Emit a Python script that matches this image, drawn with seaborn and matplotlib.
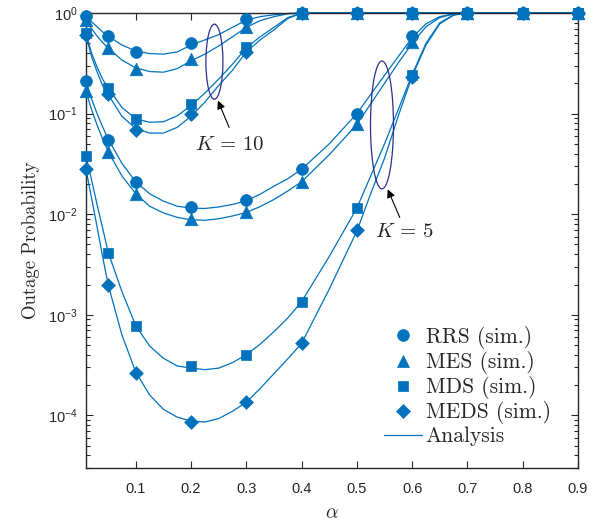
import numpy as np
import pandas as pd
import matplotlib
matplotlib.use("Agg")
import matplotlib.pyplot as plt
from matplotlib.patches import Ellipse
from matplotlib.lines import Line2D
from matplotlib.ticker import FixedLocator, FuncFormatter, LogLocator, NullFormatter
import seaborn as sns

# ---------------- data ----------------
alpha_sim = [0.01, 0.05, 0.1, 0.2, 0.3, 0.4, 0.5, 0.6, 0.7, 0.8, 0.9]

# K = 10 group (upper curves), simulation
rrs_k10_sim = [0.93, 0.59, 0.41, 0.50, 0.87, 1, 1, 1, 1, 1, 1]
mes_k10_sim = [0.85, 0.45, 0.28, 0.35, 0.73, 1, 1, 1, 1, 1, 1]
mds_k10_sim = [0.63, 0.18, 0.089, 0.125, 0.46, 1, 1, 1, 1, 1, 1]
meds_k10_sim = [0.60, 0.155, 0.069, 0.098, 0.41, 1, 1, 1, 1, 1, 1]

# K = 5 group (lower curves), simulation
rrs_k5_sim = [0.21, 0.055, 0.021, 0.0118, 0.0138, 0.028, 0.10, 0.59, 1, 1, 1]
mes_k5_sim = [0.166, 0.042, 0.0158, 0.0089, 0.0105, 0.0208, 0.078, 0.51, 1, 1, 1]
mds_k5_sim = [0.038, 0.0041, 7.7e-4, 3.1e-4, 4.0e-4, 1.35e-3, 0.0115, 0.243, 1, 1, 1]
meds_k5_sim = [0.028, 0.002, 2.64e-4, 8.5e-5, 1.35e-4, 5.2e-4, 0.0069, 0.23, 1, 1, 1]

# analysis curves
alpha_k10_an = [0.01, 0.02, 0.03, 0.04, 0.05, 0.075, 0.1, 0.125, 0.15, 0.175,
                0.2, 0.225, 0.25, 0.275, 0.3, 0.325, 0.35, 0.375, 0.4, 0.9]
rrs_k10_an = [0.92, 0.82, 0.73, 0.65, 0.59, 0.48, 0.42, 0.395, 0.39, 0.41,
              0.48, 0.54, 0.61, 0.72, 0.85, 0.92, 0.96, 0.99, 1, 1]
mes_k10_an = [0.85, 0.70, 0.59, 0.51, 0.45, 0.34, 0.285, 0.262, 0.258, 0.28,
              0.335, 0.39, 0.47, 0.58, 0.72, 0.84, 0.92, 0.98, 1, 1]
mds_k10_an = [0.63, 0.40, 0.29, 0.22, 0.18, 0.115, 0.089, 0.082, 0.083, 0.095,
              0.12, 0.16, 0.22, 0.31, 0.45, 0.58, 0.72, 0.90, 1, 1]
meds_k10_an = [0.60, 0.37, 0.26, 0.19, 0.155, 0.094, 0.071, 0.064, 0.064, 0.073,
               0.094, 0.13, 0.19, 0.27, 0.41, 0.54, 0.68, 0.88, 1, 1]

alpha_k5_an = [0.01, 0.02, 0.03, 0.04, 0.05, 0.075, 0.1, 0.125, 0.15, 0.175,
               0.2, 0.225, 0.25, 0.275, 0.3, 0.325, 0.35, 0.375, 0.4, 0.45,
               0.5, 0.525, 0.55, 0.575, 0.6, 0.625, 0.65, 0.675, 0.7, 0.9]
rrs_k5_an = [0.21, 0.14, 0.10, 0.074, 0.056, 0.032, 0.021, 0.016, 0.0135, 0.012,
             0.0115, 0.0114, 0.0118, 0.0125, 0.0136, 0.0158, 0.019, 0.0225, 0.028, 0.05,
             0.10, 0.155, 0.24, 0.37, 0.57, 0.78, 0.92, 0.98, 1, 1]
mes_k5_an = [0.166, 0.11, 0.077, 0.056, 0.042, 0.024, 0.016, 0.012, 0.0103, 0.0093,
             0.0088, 0.0087, 0.009, 0.0096, 0.0104, 0.0119, 0.014, 0.017, 0.021, 0.039,
             0.078, 0.125, 0.20, 0.32, 0.50, 0.73, 0.90, 0.98, 1, 1]
mds_k5_an = [0.038, 0.022, 0.0125, 0.0073, 0.0042, 0.0017, 7.8e-4, 4.9e-4, 3.7e-4, 3.1e-4,
             2.95e-4, 2.85e-4, 2.95e-4, 3.35e-4, 4.0e-4, 5.1e-4, 6.8e-4, 9.3e-4, 1.35e-3, 3.8e-3,
             0.0115, 0.024, 0.05, 0.11, 0.245, 0.50, 0.80, 0.96, 1, 1]
meds_k5_an = [0.028, 0.0145, 0.0075, 0.0038, 0.002, 6.3e-4, 2.7e-4, 1.6e-4, 1.15e-4, 9.6e-5,
              8.8e-5, 8.6e-5, 9.3e-5, 1.1e-4, 1.35e-4, 1.85e-4, 2.6e-4, 3.65e-4, 5.2e-4, 1.8e-3,
              6.8e-3, 0.016, 0.036, 0.095, 0.235, 0.48, 0.78, 0.95, 1, 1]

x_ticks = [0.1, 0.2, 0.3, 0.4, 0.5, 0.6, 0.7, 0.8, 0.9]
legend_labels = ["RRS (sim.)", "MES (sim.)", "MDS (sim.)", "MEDS (sim.)", "Analysis"]

# ---------------- style ----------------
sns.set_style("ticks")
plt.rcParams["font.family"] = ["Liberation Sans", "DejaVu Sans"]
plt.rcParams["mathtext.fontset"] = "custom"
plt.rcParams["mathtext.rm"] = "Liberation Sans"
plt.rcParams["mathtext.it"] = "Liberation Sans:italic"
plt.rcParams["mathtext.bf"] = "Liberation Sans:bold"
plt.rcParams["axes.formatter.use_mathtext"] = True

BLUE = "#0072BD"
AXC = "#262626"

fig = plt.figure(figsize=(5.99, 5.23), dpi=100)
ax = fig.add_axes([86 / 599, 1 - 468 / 523, 492 / 599, 455 / 523])

markers = {"RRS": ("o", 8.5), "MES": ("^", 9.0), "MDS": ("s", 7.5), "MEDS": ("D", 7.0)}

an_sets = [
    (alpha_k10_an, [rrs_k10_an, mes_k10_an, mds_k10_an, meds_k10_an]),
    (alpha_k5_an, [rrs_k5_an, mes_k5_an, mds_k5_an, meds_k5_an]),
]
for xs, ys_list in an_sets:
    for ys in ys_list:
        sns.lineplot(x=xs, y=ys, ax=ax, color=BLUE, lw=0.9, sort=False,
                     estimator=None, legend=False, clip_on=False)

sim_sets = [
    ("RRS", [rrs_k10_sim, rrs_k5_sim]),
    ("MES", [mes_k10_sim, mes_k5_sim]),
    ("MDS", [mds_k10_sim, mds_k5_sim]),
    ("MEDS", [meds_k10_sim, meds_k5_sim]),
]
for name, ys_list in sim_sets:
    m, ms = markers[name]
    for ys in ys_list:
        sns.scatterplot(x=alpha_sim, y=ys, ax=ax, marker=m, s=ms ** 2, color=BLUE,
                        edgecolor=BLUE, linewidth=0.5, legend=False, clip_on=False, zorder=5)

ax.set_yscale("log")
ax.set_xlim(0.01, 0.9)
ax.set_ylim(3e-5, 1)

ax.xaxis.set_major_locator(FixedLocator(x_ticks))
ax.xaxis.set_major_formatter(FuncFormatter(lambda v, p: f"{v:.1f}"))
ax.yaxis.set_major_locator(FixedLocator([1e-4, 1e-3, 1e-2, 1e-1, 1]))
ax.yaxis.set_major_formatter(FuncFormatter(lambda v, p: r"$10^{%d}$" % int(round(np.log10(v)))))
ax.yaxis.set_minor_locator(LogLocator(base=10, subs=np.arange(2, 10), numticks=20))
ax.yaxis.set_minor_formatter(NullFormatter())

ax.tick_params(which="both", direction="in", top=True, right=True, colors=AXC,
               labelsize=10.5, width=0.8)
ax.tick_params(which="major", length=5)
ax.tick_params(axis="y", which="major", pad=6)
ax.tick_params(axis="x", which="major", pad=10)
ax.tick_params(which="minor", length=3)
for sp in ax.spines.values():
    sp.set_color(AXC)
    sp.set_linewidth(1.0)

ax.set_xlabel(r"$\alpha$", fontsize=14, math_fontfamily="cm", labelpad=7)
ax.set_ylabel("Outage Probability", fontsize=13.5, family="cmr10", labelpad=6)

# legend
handles = [Line2D([], [], ls="none", marker=markers[n][0], ms=markers[n][1], color=BLUE,
                  markeredgewidth=0.5) for n in ["RRS", "MES", "MDS", "MEDS"]]
handles.append(Line2D([], [], color=BLUE, lw=0.9))
ax.legend(handles, legend_labels, loc="lower right", bbox_to_anchor=(0.975, 0.015),
          frameon=False, prop={"family": "cmr10", "size": 15.5}, handlelength=1.8,
          handletextpad=0.15, labelspacing=0.1, borderpad=0.2)

# annotations (ellipses + arrows + labels)
ELC = "#2E2E8F"
ax.add_patch(Ellipse((0.261, 0.893), 0.0346, 0.165, transform=ax.transAxes,
                     fill=False, ec=ELC, lw=0.9, zorder=6))
ax.add_patch(Ellipse((0.6016, 0.754), 0.0467, 0.281, transform=ax.transAxes,
                     fill=False, ec=ELC, lw=0.9, zorder=6))
ax.annotate("", xy=(0.266, 0.813), xytext=(0.293, 0.743), xycoords="axes fraction",
            arrowprops=dict(arrowstyle="-|>", color="k", lw=0.8, mutation_scale=12))
ax.annotate("", xy=(0.611, 0.618), xytext=(0.640, 0.545), xycoords="axes fraction",
            arrowprops=dict(arrowstyle="-|>", color="k", lw=0.8, mutation_scale=12))
ax.text(0.293, 0.712, r"$K\,=\,10$", transform=ax.transAxes, ha="center", va="center",
        fontsize=15, math_fontfamily="cm")
ax.text(0.648, 0.519, r"$K\,=\,5$", transform=ax.transAxes, ha="center", va="center",
        fontsize=15, math_fontfamily="cm")

fig.savefig("out.png", dpi=100)
